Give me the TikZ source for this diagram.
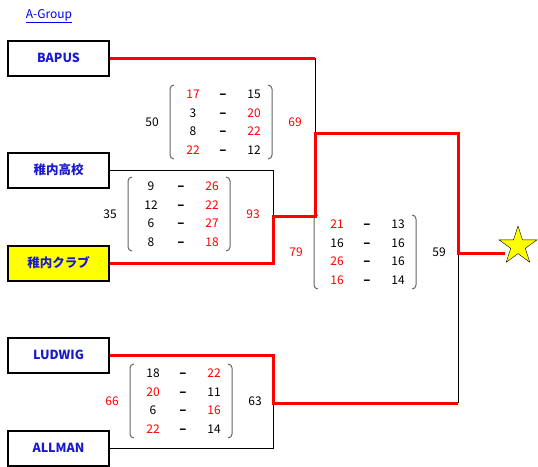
\documentclass[tikz,border=0pt]{standalone}
\usepackage{fontspec}
\setmainfont{Noto Sans CJK JP}
\usetikzlibrary{shapes.geometric}

\definecolor{teamblue}{RGB}{25,25,205}
\definecolor{linkblue}{RGB}{0,0,238}
\definecolor{winred}{RGB}{255,0,0}
\definecolor{parengray}{RGB}{100,100,100}
\definecolor{clubyellow}{RGB}{255,255,0}

\begin{document}
\begin{tikzpicture}[
    x=1pt, y=-1pt,
    team/.style={draw, rectangle, line width=2pt, fill=white, minimum width=101pt, minimum height=35pt, text=teamblue, font=\fontsize{12.5}{14}\selectfont\bfseries},
    num/.style={inner sep=0pt, text height=8.8pt, text depth=0pt, font=\fontsize{12}{14}\selectfont},
    win/.style={num, text=winred},
    lose/.style={num, text=black},
    dashmark/.style={num, font=\fontsize{13}{14}\selectfont\bfseries},
    paren/.style={parengray, line width=1pt, rounded corners=4pt},
    winline/.style={winred, line width=3pt},
    loseline/.style={black, line width=1pt},
    champ/.style={star, star points=5, star point ratio=2.618, minimum size=40pt, inner sep=0pt, draw, fill=clubyellow}
]
\useasboundingbox (0,0) rectangle (538,466);

\node[text=linkblue, font=\fontsize{12}{14}\selectfont] (title) at (49,16) {\underline{A-Group}};

% teams
\node[team] (bapus) at (58.5,58) {BAPUS};
\node[team] (koukou) at (58.5,170) {稚内高校};
\node[team, fill=clubyellow] (club) at (58.5,263) {稚内クラブ};
\node[team] (ludwig) at (58.5,355) {LUDWIG};
\node[team] (allman) at (58.5,448) {ALLMAN};

% junctions
\coordinate (jA) at (315,133);
\coordinate (jB) at (273,216);
\coordinate (jC) at (458,253);
\coordinate (jD) at (273,403);

% scores
\coordinate (mA) at (221,122);
\foreach \l/\lc/\r/\rc [count=\i] in {17/win/15/lose, 3/lose/20/win, 8/lose/22/win, 22/win/12/lose} {
    \node[\lc] (mA-l\i) at ([shift={(-28,18.67*\i-46.67)}]mA) {\l};
    \node[dashmark] (mA-d\i) at ([shift={(2,18.67*\i-46.67)}]mA) {–};
    \node[\rc] (mA-r\i) at ([shift={(33,18.67*\i-46.67)}]mA) {\r};
}
\node[lose] (mA-lt) at ([xshift=-69]mA) {50};
\node[win] (mA-rt) at ([xshift=74]mA) {69};

\coordinate (mB) at (179,214);
\foreach \l/\lc/\r/\rc [count=\i] in {9/lose/26/win, 12/lose/22/win, 6/lose/27/win, 8/lose/18/win} {
    \node[\lc] (mB-l\i) at ([shift={(-28,18.67*\i-46.67)}]mB) {\l};
    \node[dashmark] (mB-d\i) at ([shift={(2,18.67*\i-46.67)}]mB) {–};
    \node[\rc] (mB-r\i) at ([shift={(33,18.67*\i-46.67)}]mB) {\r};
}
\node[lose] (mB-lt) at ([xshift=-69]mB) {35};
\node[win] (mB-rt) at ([xshift=74]mB) {93};

\coordinate (mC) at (365,252);
\foreach \l/\lc/\r/\rc [count=\i] in {21/win/13/lose, 16/lose/16/lose, 26/win/16/lose, 16/win/14/lose} {
    \node[\lc] (mC-l\i) at ([shift={(-28,18.67*\i-46.67)}]mC) {\l};
    \node[dashmark] (mC-d\i) at ([shift={(2,18.67*\i-46.67)}]mC) {–};
    \node[\rc] (mC-r\i) at ([shift={(33,18.67*\i-46.67)}]mC) {\r};
}
\node[win] (mC-lt) at ([xshift=-69]mC) {79};
\node[lose] (mC-rt) at ([xshift=74]mC) {59};

\coordinate (mD) at (181,401);
\foreach \l/\lc/\r/\rc [count=\i] in {18/lose/22/win, 20/win/11/lose, 6/lose/16/win, 22/win/14/lose} {
    \node[\lc] (mD-l\i) at ([shift={(-28,18.67*\i-46.67)}]mD) {\l};
    \node[dashmark] (mD-d\i) at ([shift={(2,18.67*\i-46.67)}]mD) {–};
    \node[\rc] (mD-r\i) at ([shift={(33,18.67*\i-46.67)}]mD) {\r};
}
\node[win] (mD-lt) at ([xshift=-69]mD) {66};
\node[lose] (mD-rt) at ([xshift=74]mD) {63};

% brackets round the scores
\foreach \m in {mA, mB, mC, mD} {
    \draw[paren] ([shift={(-47,-37)}]\m) -- ++(-4,0) -- ++(0,74) -- ++(4,0);
    \draw[paren] ([shift={(47,-37)}]\m) -- ++(4,0) -- ++(0,74) -- ++(-4,0);
}

% lines
\draw[loseline] (bapus.east -| jA) -- (jA);
\draw[loseline] (koukou.east) -| (jB);
\draw[loseline] (allman.east) -| (jD);
\draw[loseline] (jD -| jC) -- (jC);
\draw[winline] (bapus.east) -- (bapus.east -| jA);
\draw[winline] (ludwig.east) -| (jD) -- (jD -| jC);
\draw[winline] (club.east) -| (jB) -| (jA) -| (jC) -- (jC -| 505,0);

\node[champ] (champ) at (518,246) {};

\end{tikzpicture}
\end{document}
